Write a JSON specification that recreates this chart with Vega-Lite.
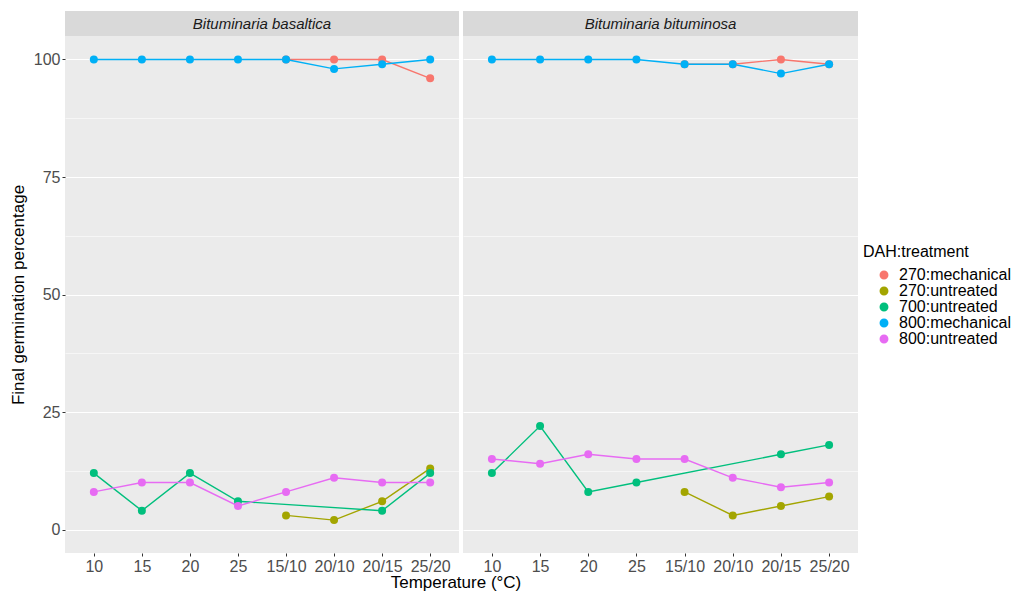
{
  "$schema": "https://vega.github.io/schema/vega-lite/v6.json",
  "padding": {"left": 9, "top": 11, "right": 5, "bottom": 5},
  "background": "#FFFFFF",
  "spacing": 4,
  "title": {"text": "Temperature (°C)", "orient": "bottom", "anchor": "start", "frame": "group", "align": "center", "dx": 391, "offset": 1, "fontSize": 17, "fontWeight": "normal", "color": "#000000", "font": "Liberation Sans"},
  "datasets": {
    "d": [
      {"species": "Bituminaria basaltica", "group": "270:mechanical", "temp": "15/10", "value": 100},
      {"species": "Bituminaria basaltica", "group": "270:mechanical", "temp": "20/10", "value": 100},
      {"species": "Bituminaria basaltica", "group": "270:mechanical", "temp": "20/15", "value": 100},
      {"species": "Bituminaria basaltica", "group": "270:mechanical", "temp": "25/20", "value": 96},
      {"species": "Bituminaria basaltica", "group": "270:untreated", "temp": "15/10", "value": 3},
      {"species": "Bituminaria basaltica", "group": "270:untreated", "temp": "20/10", "value": 2},
      {"species": "Bituminaria basaltica", "group": "270:untreated", "temp": "20/15", "value": 6},
      {"species": "Bituminaria basaltica", "group": "270:untreated", "temp": "25/20", "value": 13},
      {"species": "Bituminaria basaltica", "group": "700:untreated", "temp": "10", "value": 12},
      {"species": "Bituminaria basaltica", "group": "700:untreated", "temp": "15", "value": 4},
      {"species": "Bituminaria basaltica", "group": "700:untreated", "temp": "20", "value": 12},
      {"species": "Bituminaria basaltica", "group": "700:untreated", "temp": "25", "value": 6},
      {"species": "Bituminaria basaltica", "group": "700:untreated", "temp": "20/15", "value": 4},
      {"species": "Bituminaria basaltica", "group": "700:untreated", "temp": "25/20", "value": 12},
      {"species": "Bituminaria basaltica", "group": "800:mechanical", "temp": "10", "value": 100},
      {"species": "Bituminaria basaltica", "group": "800:mechanical", "temp": "15", "value": 100},
      {"species": "Bituminaria basaltica", "group": "800:mechanical", "temp": "20", "value": 100},
      {"species": "Bituminaria basaltica", "group": "800:mechanical", "temp": "25", "value": 100},
      {"species": "Bituminaria basaltica", "group": "800:mechanical", "temp": "15/10", "value": 100},
      {"species": "Bituminaria basaltica", "group": "800:mechanical", "temp": "20/10", "value": 98},
      {"species": "Bituminaria basaltica", "group": "800:mechanical", "temp": "20/15", "value": 99},
      {"species": "Bituminaria basaltica", "group": "800:mechanical", "temp": "25/20", "value": 100},
      {"species": "Bituminaria basaltica", "group": "800:untreated", "temp": "10", "value": 8},
      {"species": "Bituminaria basaltica", "group": "800:untreated", "temp": "15", "value": 10},
      {"species": "Bituminaria basaltica", "group": "800:untreated", "temp": "20", "value": 10},
      {"species": "Bituminaria basaltica", "group": "800:untreated", "temp": "25", "value": 5},
      {"species": "Bituminaria basaltica", "group": "800:untreated", "temp": "15/10", "value": 8},
      {"species": "Bituminaria basaltica", "group": "800:untreated", "temp": "20/10", "value": 11},
      {"species": "Bituminaria basaltica", "group": "800:untreated", "temp": "20/15", "value": 10},
      {"species": "Bituminaria basaltica", "group": "800:untreated", "temp": "25/20", "value": 10},
      {"species": "Bituminaria bituminosa", "group": "270:mechanical", "temp": "15/10", "value": 99},
      {"species": "Bituminaria bituminosa", "group": "270:mechanical", "temp": "20/10", "value": 99},
      {"species": "Bituminaria bituminosa", "group": "270:mechanical", "temp": "20/15", "value": 100},
      {"species": "Bituminaria bituminosa", "group": "270:mechanical", "temp": "25/20", "value": 99},
      {"species": "Bituminaria bituminosa", "group": "270:untreated", "temp": "15/10", "value": 8},
      {"species": "Bituminaria bituminosa", "group": "270:untreated", "temp": "20/10", "value": 3},
      {"species": "Bituminaria bituminosa", "group": "270:untreated", "temp": "20/15", "value": 5},
      {"species": "Bituminaria bituminosa", "group": "270:untreated", "temp": "25/20", "value": 7},
      {"species": "Bituminaria bituminosa", "group": "700:untreated", "temp": "10", "value": 12},
      {"species": "Bituminaria bituminosa", "group": "700:untreated", "temp": "15", "value": 22},
      {"species": "Bituminaria bituminosa", "group": "700:untreated", "temp": "20", "value": 8},
      {"species": "Bituminaria bituminosa", "group": "700:untreated", "temp": "25", "value": 10},
      {"species": "Bituminaria bituminosa", "group": "700:untreated", "temp": "20/15", "value": 16},
      {"species": "Bituminaria bituminosa", "group": "700:untreated", "temp": "25/20", "value": 18},
      {"species": "Bituminaria bituminosa", "group": "800:mechanical", "temp": "10", "value": 100},
      {"species": "Bituminaria bituminosa", "group": "800:mechanical", "temp": "15", "value": 100},
      {"species": "Bituminaria bituminosa", "group": "800:mechanical", "temp": "20", "value": 100},
      {"species": "Bituminaria bituminosa", "group": "800:mechanical", "temp": "25", "value": 100},
      {"species": "Bituminaria bituminosa", "group": "800:mechanical", "temp": "15/10", "value": 99},
      {"species": "Bituminaria bituminosa", "group": "800:mechanical", "temp": "20/10", "value": 99},
      {"species": "Bituminaria bituminosa", "group": "800:mechanical", "temp": "20/15", "value": 97},
      {"species": "Bituminaria bituminosa", "group": "800:mechanical", "temp": "25/20", "value": 99},
      {"species": "Bituminaria bituminosa", "group": "800:untreated", "temp": "10", "value": 15},
      {"species": "Bituminaria bituminosa", "group": "800:untreated", "temp": "15", "value": 14},
      {"species": "Bituminaria bituminosa", "group": "800:untreated", "temp": "20", "value": 16},
      {"species": "Bituminaria bituminosa", "group": "800:untreated", "temp": "25", "value": 15},
      {"species": "Bituminaria bituminosa", "group": "800:untreated", "temp": "15/10", "value": 15},
      {"species": "Bituminaria bituminosa", "group": "800:untreated", "temp": "20/10", "value": 11},
      {"species": "Bituminaria bituminosa", "group": "800:untreated", "temp": "20/15", "value": 9},
      {"species": "Bituminaria bituminosa", "group": "800:untreated", "temp": "25/20", "value": 10}
    ],
    "strips": [
      {"label": "Bituminaria basaltica"},
      {"label": "Bituminaria bituminosa"}
    ]
  },
  "config": {
    "font": "Liberation Sans",
    "view": {"fill": "#EBEBEB", "stroke": null},
    "axis": {
      "labelFont": "Liberation Sans",
      "labelFontSize": 16,
      "labelColor": "#4D4D4D",
      "tickColor": "#333333",
      "tickSize": 3,
      "tickWidth": 1,
      "labelPadding": 2,
      "domain": false,
      "gridColor": "#FFFFFF",
      "titleFont": "Liberation Sans",
      "titleFontSize": 17,
      "titleFontWeight": "normal",
      "titleColor": "#000000"
    },
    "legend": {
      "titleFont": "Liberation Sans",
      "titleFontSize": 16,
      "titleFontWeight": "normal",
      "titleColor": "#000000",
      "labelFont": "Liberation Sans",
      "labelFontSize": 16,
      "labelColor": "#000000"
    }
  },
  "hconcat": [
    {
      "spacing": 0,
      "vconcat": [
        {
          "data": {"name": "strips"},
          "transform": [{"filter": "datum.label === 'Bituminaria basaltica'"}],
          "width": 394,
          "height": 25,
          "view": {"fill": "#D9D9D9", "stroke": null},
          "mark": {"type": "text", "fontStyle": "italic", "fontSize": 15, "color": "#1A1A1A", "font": "Liberation Sans"},
          "encoding": {"text": {"field": "label"}}
        },
        {
          "data": {"name": "d"},
          "transform": [{"filter": "datum.species === 'Bituminaria basaltica'"}],
          "width": 394,
          "height": 517,
          "encoding": {
            "x": {
              "field": "temp", "type": "ordinal",
              "sort": ["10", "15", "20", "25", "15/10", "20/10", "20/15", "25/20"],
              "scale": {"type": "point", "padding": 0.6},
              "axis": {"title": null, "labelAngle": 0, "gridWidth": 1.1}
            },
            "y": {
              "field": "value", "type": "quantitative",
              "scale": {"domain": [-5, 105], "nice": false, "zero": false},
              "axis": {
                "title": "Final germination percentage",
                "titlePadding": 6,
                "values": [0, 12.5, 25, 37.5, 50, 62.5, 75, 87.5, 100],
                "labelExpr": "datum.value % 25 === 0 ? datum.label : ''",
                "gridWidth": {"condition": {"test": "datum.value % 25 === 0", "value": 1.1}, "value": 0.55},
                "tickOpacity": {"condition": {"test": "datum.value % 25 === 0", "value": 1}, "value": 0}
              }
            },
            "color": {
              "field": "group", "type": "nominal",
              "scale": {
                "domain": ["270:mechanical", "270:untreated", "700:untreated", "800:mechanical", "800:untreated"],
                "range": ["#F8766D", "#A3A500", "#00BF7D", "#00B0F6", "#E76BF3"]
              },
              "legend": {"title": "DAH:treatment", "orient": "none", "legendX": 798, "legendY": 233, "symbolType": "circle", "symbolSize": 55, "symbolOffset": 13, "labelOffset": 7, "rowPadding": 0, "titlePadding": 7}
            }
          },
          "layer": [
            {"mark": {"type": "line", "strokeWidth": 1.4}},
            {"mark": {"type": "point", "filled": true, "opacity": 1, "size": 64}}
          ]
        }
      ]
    },
    {
      "spacing": 0,
      "vconcat": [
        {
          "data": {"name": "strips"},
          "transform": [{"filter": "datum.label === 'Bituminaria bituminosa'"}],
          "width": 395,
          "height": 25,
          "view": {"fill": "#D9D9D9", "stroke": null},
          "mark": {"type": "text", "fontStyle": "italic", "fontSize": 15, "color": "#1A1A1A", "font": "Liberation Sans"},
          "encoding": {"text": {"field": "label"}}
        },
        {
          "data": {"name": "d"},
          "transform": [{"filter": "datum.species === 'Bituminaria bituminosa'"}],
          "width": 395,
          "height": 517,
          "encoding": {
            "x": {
              "field": "temp", "type": "ordinal",
              "sort": ["10", "15", "20", "25", "15/10", "20/10", "20/15", "25/20"],
              "scale": {"type": "point", "padding": 0.6},
              "axis": {"title": null, "labelAngle": 0, "gridWidth": 1.1}
            },
            "y": {
              "field": "value", "type": "quantitative",
              "scale": {"domain": [-5, 105], "nice": false, "zero": false},
              "axis": {
                "title": null,
                "labels": false,
                "ticks": false,
                "values": [0, 12.5, 25, 37.5, 50, 62.5, 75, 87.5, 100],
                "gridWidth": {"condition": {"test": "datum.value % 25 === 0", "value": 1.1}, "value": 0.55}
              }
            },
            "color": {
              "field": "group", "type": "nominal",
              "scale": {
                "domain": ["270:mechanical", "270:untreated", "700:untreated", "800:mechanical", "800:untreated"],
                "range": ["#F8766D", "#A3A500", "#00BF7D", "#00B0F6", "#E76BF3"]
              },
              "legend": null
            }
          },
          "layer": [
            {"mark": {"type": "line", "strokeWidth": 1.4}},
            {"mark": {"type": "point", "filled": true, "opacity": 1, "size": 64}}
          ]
        }
      ]
    }
  ]
}
